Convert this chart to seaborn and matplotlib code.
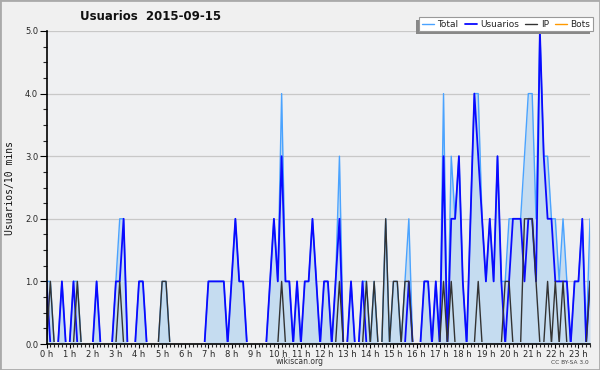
import numpy as np
import pandas as pd
import matplotlib
matplotlib.use("Agg")
import matplotlib.pyplot as plt
import seaborn as sns
from matplotlib.patches import Rectangle
from matplotlib.ticker import MultipleLocator

# ---- data: 10-minute slots, 00:00 .. 23:30 ----
slot_hours = np.arange(142) / 6.0

usuarios = [1, 0, 0, 0, 1, 0, 0, 1, 0, 0, 0, 0, 0, 1, 0, 0, 0, 0, 1, 1,
            2, 0, 0, 0, 1, 1, 0, 0, 0, 0, 0, 0, 0, 0, 0, 0, 0, 0, 0, 0,
            0, 0, 1, 1, 1, 1, 1, 0, 1, 2, 1, 1, 0, 0, 0, 0, 0, 0, 1, 2,
            1, 3, 1, 1, 0, 1, 0, 1, 1, 2, 1, 0, 1, 1, 0, 1, 2, 0, 0, 1,
            0, 0, 1, 0, 0, 0, 0, 0, 0, 0, 0, 0, 0, 0, 1, 0, 0, 0, 1, 1,
            0, 1, 0, 3, 0, 2, 2, 3, 1, 0, 2, 4, 3, 2, 1, 2, 1, 3, 1, 0,
            1, 2, 2, 2, 1, 2, 2, 1, 5, 3, 2, 2, 1, 1, 1, 1, 0, 1, 1, 2,
            0, 1]

ip = [0, 1, 0, 0, 0, 0, 0, 0, 1, 0, 0, 0, 0, 0, 0, 0, 0, 0, 0, 1,
      0, 0, 0, 0, 0, 0, 0, 0, 0, 0, 1, 1, 0, 0, 0, 0, 0, 0, 0, 0,
      0, 0, 0, 0, 0, 0, 0, 0, 0, 0, 0, 0, 0, 0, 0, 0, 0, 0, 0, 0,
      0, 1, 0, 0, 0, 0, 0, 0, 0, 0, 0, 0, 0, 0, 0, 0, 1, 0, 0, 0,
      0, 0, 0, 1, 0, 1, 0, 0, 2, 0, 1, 1, 0, 1, 1, 0, 0, 0, 0, 0,
      0, 0, 0, 1, 0, 1, 0, 0, 0, 0, 0, 0, 1, 0, 0, 0, 0, 0, 0, 1,
      1, 0, 0, 0, 2, 2, 2, 1, 0, 0, 1, 0, 1, 0, 1, 0, 0, 0, 0, 0,
      0, 1]

total = [1, 1, 0, 0, 1, 0, 0, 1, 1, 0, 0, 0, 0, 1, 0, 0, 0, 0, 1, 2,
         2, 0, 0, 0, 1, 1, 0, 0, 0, 0, 1, 1, 0, 0, 0, 0, 0, 0, 0, 0,
         0, 0, 1, 1, 1, 1, 1, 0, 1, 2, 1, 1, 0, 0, 0, 0, 0, 0, 1, 2,
         1, 4, 1, 1, 0, 1, 0, 1, 1, 2, 1, 0, 1, 1, 0, 1, 3, 0, 0, 1,
         0, 0, 1, 1, 0, 1, 0, 0, 2, 0, 1, 1, 0, 1, 2, 0, 0, 0, 1, 1,
         0, 1, 0, 4, 0, 3, 2, 3, 1, 0, 2, 4, 4, 2, 1, 2, 1, 3, 1, 1,
         2, 2, 2, 2, 3, 4, 4, 2, 5, 3, 3, 2, 2, 1, 2, 1, 0, 1, 1, 2,
         0, 2]

bots = [0] * 142

hour_ticks = list(range(24))
hour_labels = [f"{h} h" for h in hour_ticks]
y_ticks = [0, 1, 2, 3, 4, 5]
y_labels = ["0.0", "1.0", "2.0", "3.0", "4.0", "5.0"]

df = pd.DataFrame({"h": slot_hours, "Total": total, "Usuarios": usuarios,
                   "IP": ip, "Bots": bots})

sns.set_style("white")
plt.rcParams["font.family"] = ["DejaVu Sans"]

W, H = 600, 370
AX_H = 313
fig = plt.figure(figsize=(6, 3.7), dpi=100, facecolor="#f0f0f0")
ax = fig.add_axes([46.5 / W, 26 / H, 543.5 / W, AX_H / H])
ax.set_facecolor("#eff0f2")

ax.fill_between(df["h"], 0, df["Total"], color="#c5dcf0", lw=0, zorder=1)
sns.lineplot(data=df, x="h", y="Bots", ax=ax, color="#ff9900", lw=1.0,
             label="Bots", zorder=1.5)
sns.lineplot(data=df, x="h", y="Total", ax=ax, color="#4aa3ff", lw=1.0,
             label="Total", zorder=3)
sns.lineplot(data=df, x="h", y="Usuarios", ax=ax, color="#0a0aff", lw=1.3,
             label="Usuarios", zorder=4)
sns.lineplot(data=df, x="h", y="IP", ax=ax, color="#333333", lw=1.0,
             label="IP", zorder=5)

# hide the part of the lines lying on the x axis (as in the original)
for ln in ax.get_lines():
    clip = Rectangle((0, 1.6 / AX_H), 1, 1.2, transform=ax.transAxes)
    ln.set_clip_path(clip)

ax.set_xlim(0, slot_hours[-1])
ax.set_ylim(0, 5)
ax.set_xlabel("")
ax.set_ylabel("")

ax.set_yticks(y_ticks)
ax.set_yticklabels(y_labels)
ax.yaxis.set_minor_locator(MultipleLocator(0.25))
ax.set_xticks(hour_ticks)
ax.set_xticklabels(hour_labels)
ax.xaxis.set_minor_locator(MultipleLocator(1 / 6))

ax.tick_params(axis="y", which="major", direction="out", length=5, width=0.8,
               labelsize=6, pad=1, color="black", left=True)
ax.tick_params(axis="y", which="minor", direction="out", length=3, width=0.8,
               left=True)
ax.tick_params(axis="x", which="major", direction="out", length=3, width=0.8,
               labelsize=6, pad=1, color="black", bottom=True)
ax.tick_params(axis="x", which="minor", direction="out", length=2.5, width=0.8,
               bottom=True)

for s in ["top", "right"]:
    ax.spines[s].set_visible(False)
for s in ["left", "bottom"]:
    ax.spines[s].set_color("black")
    ax.spines[s].set_linewidth(1.2)
    ax.spines[s].set_zorder(10)

ax.yaxis.grid(True, color="#c8c8c8", lw=0.9)
ax.set_axisbelow(True)

# legend
if ax.get_legend() is not None:
    ax.get_legend().remove()
handles, labels = ax.get_legend_handles_labels()
order = ["Total", "Usuarios", "IP", "Bots"]
hmap = dict(zip(labels, handles))
leg = fig.legend([hmap[k] for k in order], order, ncol=4, loc="upper right",
                 bbox_to_anchor=(593 / W, 1 - 17 / H), fontsize=6.5,
                 frameon=True, fancybox=False, facecolor="white",
                 edgecolor="#999999", framealpha=1, handlelength=1.3,
                 handletextpad=0.4, columnspacing=0.7, borderpad=0.3,
                 borderaxespad=0)
leg.get_frame().set_linewidth(0.8)
leg.set_zorder(10)

fig.canvas.draw()
bb = leg.get_window_extent().transformed(fig.transFigure.inverted())
fig.add_artist(Rectangle((bb.x0 - 3 / W, bb.y0 - 3 / H), bb.width, bb.height,
                         transform=fig.transFigure, facecolor="#888888",
                         edgecolor="none", zorder=9))

fig.text(151 / W, 1 - 17 / H, "Usuarios  2015-09-15", ha="center",
         va="center", fontsize=8.5, fontweight="bold", color="#111111")
fig.text(10 / W, 1 - 188 / H, "Usuarios/10 mins", rotation=90, ha="center",
         va="center", fontsize=7, family=["DejaVu Sans Mono"], color="#111111")
fig.text(300 / W, 1 - 362 / H, "wikiscan.org", ha="center", va="center",
         fontsize=5.5, color="#333333")
fig.text(589 / W, 1 - 362 / H, "CC BY-SA 3.0", ha="right", va="center",
         fontsize=4.2, color="#444444")

fig.add_artist(Rectangle((0, 0), 1, 1, transform=fig.transFigure, fill=False,
                         edgecolor="#aaaaaa", lw=2, zorder=20))

fig.savefig("out.png", dpi=100, facecolor=fig.get_facecolor())
